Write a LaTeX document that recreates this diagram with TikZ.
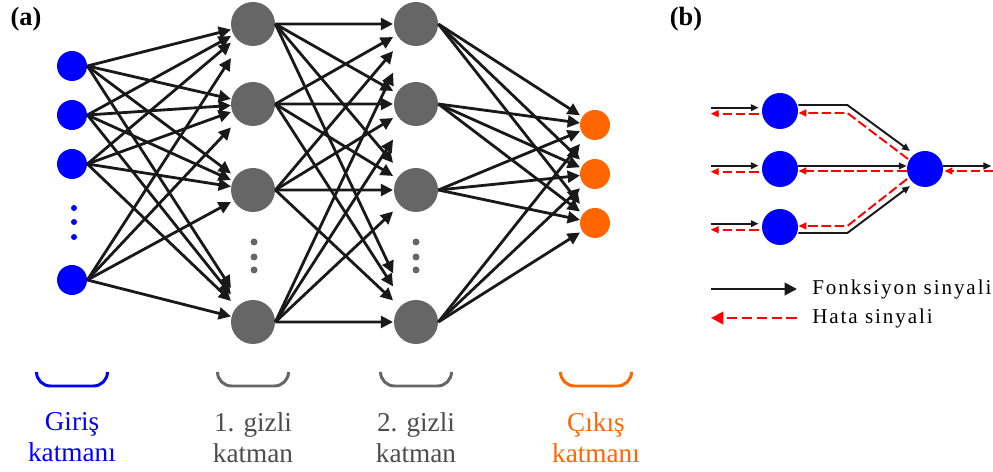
\documentclass[tikz,border=0pt]{standalone}
\usepackage{fontspec}
\setmainfont{Liberation Serif}
\newfontfamily\keyfont[LetterSpace=9]{Liberation Serif}
\usepackage{tikz}
\usetikzlibrary{arrows.meta,positioning,calc}
\usepackage{xcolor}
\definecolor{nnblue}{RGB}{0,0,255}
\definecolor{nngray}{RGB}{102,102,102}
\definecolor{nntext}{RGB}{77,77,77}
\definecolor{nnorange}{RGB}{255,102,0}
\definecolor{nnred}{RGB}{255,0,0}
\definecolor{nnline}{RGB}{25,25,25}

\tikzset{
  neuron/.style={circle, fill=#1, inner sep=0pt},
  link/.style={line width=1.6pt, nnline, -{Triangle[length=7pt,width=6.8pt]}},
  fsig/.style={line width=1.1pt, nnline, -{Triangle[length=4.5pt,width=3.8pt]}},
  esig/.style={line width=1.1pt, nnred, dash pattern=on 5.5pt off 2pt, -{Triangle[length=4.5pt,width=3.8pt]}},
  keyf/.style={line width=1.6pt, nnline, -{Triangle[length=7pt,width=7pt]}},
  keye/.style={line width=1.6pt, nnred, dash pattern=on 6pt off 2.5pt, -{Triangle[length=7pt,width=7pt]}},
  brace/.style={line width=1.7pt, rounded corners=0.28cm},
  layername/.style={align=center, anchor=north, inner sep=0pt, font=\fontsize{15.5}{17.8}\selectfont},
  keytext/.style={anchor=base west, inner sep=0pt, font=\fontsize{12}{14}\keyfont},
  panel/.style={font=\fontsize{15}{18}\selectfont\bfseries}
}

\begin{document}
\begin{tikzpicture}
  \useasboundingbox (0,0) rectangle (19.86,9.44);
  \node[panel] (pa) at (0.52,9.06) {(a)};
  \node[panel] (pb) at (13.72,9.06) {(b)};

  % input layer
  \foreach \n/\y in {1/8.12, 2/7.14, 3/6.16, 4/3.84}
    \node[neuron=nnblue, minimum size=0.6cm] (x\n) at (1.44,\y) {};
  % hidden layers
  \foreach \n/\y in {1/8.96, 2/7.36, 3/5.64, 4/3.0} {
    \node[neuron=nngray, minimum size=0.88cm] (ha\n) at (5.06,\y) {};
    \node[neuron=nngray, minimum size=0.88cm] (hb\n) at (8.32,\y) {};
  }
  % output layer
  \foreach \n/\y in {1/6.94, 2/5.96, 3/4.98}
    \node[neuron=nnorange, minimum size=0.6cm] (y\n) at (11.9,\y) {};

  % dots
  \foreach \y in {5.28, 5.0, 4.7}
    \fill[nnblue] (1.48,\y) circle (0.06);
  \foreach \y in {4.6, 4.3, 4.04} {
    \fill[nngray] (5.08,\y) circle (0.07);
    \fill[nngray] (8.32,\y) circle (0.07);
  }

  % connections
  \foreach \s in {1,...,4}
    \foreach \t in {1,...,4} {
      \draw[link] (x\s.east) -- ($(x\s.east)!0.867!(ha\t)$);
      \draw[link] (ha\s.east) -- ($(ha\s.east)!0.837!(hb\t)$);
    }
  \foreach \s in {1,...,4}
    \foreach \t in {1,2,3}
      \draw[link] (hb\s.east) -- ($(hb\s.east)!0.904!(y\t)$);

  % layer names
  \foreach \x/\c in {1.44/nnblue, 5.06/nngray, 8.32/nngray, 11.92/nnorange}
    \draw[brace, \c] (\x-0.71,2.0) -- (\x-0.71,1.72) -- (\x+0.71,1.72) -- (\x+0.71,2.0);
  \node[layername, nnblue] (lx) at (1.44,1.2) {Giriş\\katmanı};
  \node[layername, nntext] (lha) at (5.06,1.2) {1. gizli\\katman};
  \node[layername, nntext] (lhb) at (8.32,1.2) {2. gizli\\katman};
  \node[layername, nnorange] (ly) at (11.92,1.2) {Çıkış\\katmanı};

  % panel (b)
  \foreach \n/\y in {1/7.22, 2/6.06, 3/4.9}
    \node[neuron=nnblue, minimum size=0.72cm] (b\n) at (15.6,\y) {};
  \node[neuron=nnblue, minimum size=0.72cm] (bo) at (18.5,6.06) {};

  \foreach \n in {1,2,3} {
    \draw[fsig] ($(b\n.west)+(-1.02,0.066)$) -- ($(b\n.west)+(-0.06,0.066)$);
    \draw[esig] ($(b\n.west)+(-0.06,-0.054)$) -- ($(b\n.west)+(-1.02,-0.054)$);
  }
  \draw[fsig] ($(b1.east)+(0,0.12)$) -- ++(0.98,0) -- ($(bo)+(-0.3,0.36)$);
  \draw[esig] ($(bo)+(-0.34,0.2)$) -- ($(b1.east)+(0.98,-0.04)$) -- ($(b1.east)+(0,-0.04)$);
  \draw[fsig] ($(b2.east)+(0,0.06)$) -- ($(bo.west)+(0,0.06)$);
  \draw[esig] ($(bo.west)+(0,-0.04)$) -- ($(b2.east)+(0,-0.04)$);
  \draw[fsig] ($(b3.east)+(0,-0.12)$) -- ++(0.98,0) -- ($(bo)+(-0.3,-0.34)$);
  \draw[esig] ($(bo)+(-0.36,-0.2)$) -- ($(b3.east)+(0.98,0.02)$) -- ($(b3.east)+(0,0.02)$);
  \draw[fsig] ($(bo.east)+(0,0.06)$) -- ++(0.96,0);
  \draw[esig] ($(bo.east)+(1.0,-0.04)$) -- ($(bo.east)+(0.02,-0.04)$);

  % legend
  \node[keytext] (kf) at (16.24,3.54) {Fonksiyon sinyali};
  \node[keytext] (ke) at (16.24,2.96) {Hata sinyali};
  \draw[keyf] ($(kf.base west)+(-2.02,0.12)$) -- ($(kf.base west)+(-0.3,0.12)$);
  \draw[keye] ($(ke.base west)+(-0.3,0.12)$) -- ($(ke.base west)+(-2.02,0.12)$);
\end{tikzpicture}
\end{document}
